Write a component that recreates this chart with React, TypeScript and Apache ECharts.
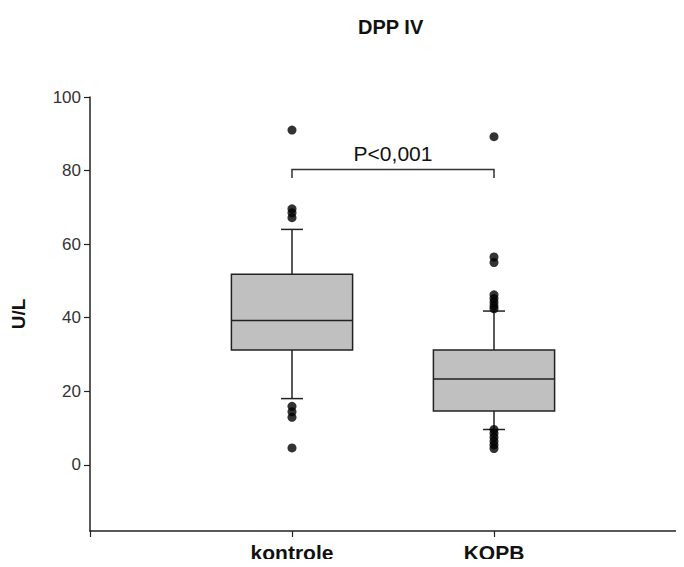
import React, { useEffect, useRef } from "react";
import * as echarts from "echarts";

const categories = ["", "kontrole", "KOPB", ""];
// [categoryIndex, lowerWhisker, Q1, median, Q3, upperWhisker]
const boxStats = [
  [1, 18, 31.2, 39.2, 51.8, 64],
  [2, 9.6, 14.6, 23.3, 31.2, 41.8],
];
const outliersKontrole = [91, 69.6, 68.5, 67.2, 15.9, 14.4, 12.9, 4.6];
const outliersKOPB = [89.2, 56.5, 55, 46.2, 45.2, 44.2, 43.2, 42.4, 9.6, 8.6, 7.5, 6.4, 5.4, 4.4];
const bracket = [[1, 2, 80.3, 78]];
const pText = "P<0,001";
const yTicks = [0, 20, 40, 60, 80, 100];
const yMin = -18;
const yMax = 100;

const FONT = "'Liberation Sans', Arial, sans-serif";
const INK = "#222";

export default function App() {
  const ref = useRef<HTMLDivElement>(null);
  useEffect(() => {
    if (!ref.current) return;
    const chart = echarts.init(ref.current, null, { renderer: "svg" });
    const outlierData = [
      ...outliersKontrole.map((v) => [1, v]),
      ...outliersKOPB.map((v) => [2, v]),
    ];
    chart.setOption({
      animation: false,
      backgroundColor: "#fff",
      title: {
        text: "DPP IV",
        left: 353,
        top: 12,
        textStyle: { fontFamily: FONT, fontSize: 20, fontWeight: "bold", color: "#111" },
      },
      grid: { left: 90, right: -12, top: 97, bottom: 36, outerBoundsMode: "none", containLabel: false },
      xAxis: {
        type: "category",
        data: categories,
        boundaryGap: false,
        axisLine: { onZero: false, lineStyle: { color: INK, width: 1.5 } },
        axisTick: { show: true, length: 6, interval: 0, lineStyle: { color: INK, width: 1.2 } },
        axisLabel: {
          interval: 0,
          margin: 11,
          fontFamily: FONT,
          fontSize: 21,
          fontWeight: "bold",
          color: "#111",
        },
        splitLine: { show: false },
      },
      yAxis: {
        type: "value",
        min: yMin,
        max: yMax,
        name: "U/L",
        nameLocation: "middle",
        nameRotate: 90,
        nameGap: 62,
        nameTextStyle: { fontFamily: FONT, fontSize: 19, fontWeight: "bold", color: "#111" },
        axisLine: { show: true, lineStyle: { color: INK, width: 1.5 } },
        axisTick: { show: true, length: 6, customValues: yTicks, lineStyle: { color: INK, width: 1.2 } },
        axisLabel: {
          customValues: yTicks,
          margin: 9,
          fontFamily: FONT,
          fontSize: 17,
          color: "#333",
        },
        splitLine: { show: false },
      },
      series: [
        {
          type: "custom",
          data: boxStats,
          encode: { x: 0, y: [1, 2, 3, 4, 5] },
          renderItem: (params: any, api: any) => {
            const x = api.value(0);
            const lo = api.coord([x, api.value(1)]);
            const q1 = api.coord([x, api.value(2)]);
            const med = api.coord([x, api.value(3)]);
            const q3 = api.coord([x, api.value(4)]);
            const hi = api.coord([x, api.value(5)]);
            const bw = api.size([1, 0])[0] * 0.6;
            const cw = 22;
            const cx = q1[0];
            const ls = { stroke: INK, lineWidth: 1.5, fill: null };
            return {
              type: "group",
              children: [
                { type: "line", shape: { x1: cx, y1: lo[1], x2: cx, y2: q1[1] }, style: ls },
                { type: "line", shape: { x1: cx, y1: q3[1], x2: cx, y2: hi[1] }, style: ls },
                { type: "line", shape: { x1: cx - cw / 2, y1: lo[1], x2: cx + cw / 2, y2: lo[1] }, style: ls },
                { type: "line", shape: { x1: cx - cw / 2, y1: hi[1], x2: cx + cw / 2, y2: hi[1] }, style: ls },
                {
                  type: "rect",
                  shape: { x: cx - bw / 2, y: q3[1], width: bw, height: q1[1] - q3[1] },
                  style: { fill: "#c0c0c0", stroke: INK, lineWidth: 1.5 },
                },
                { type: "line", shape: { x1: cx - bw / 2, y1: med[1], x2: cx + bw / 2, y2: med[1] }, style: ls },
              ],
            };
          },
          z: 2,
        },
        {
          type: "scatter",
          data: outlierData,
          symbol: "circle",
          symbolSize: 9,
          itemStyle: { color: "#000" },
          z: 3,
        },
        {
          type: "custom",
          data: bracket,
          encode: { x: [0, 1], y: [2, 3] },
          renderItem: (params: any, api: any) => {
            const a = api.coord([api.value(0), api.value(2)]);
            const b = api.coord([api.value(1), api.value(2)]);
            const aEnd = api.coord([api.value(0), api.value(3)]);
            const bEnd = api.coord([api.value(1), api.value(3)]);
            const ls = { stroke: "#333", lineWidth: 1.5, fill: null };
            return {
              type: "group",
              children: [
                { type: "polyline", shape: { points: [aEnd, a, b, bEnd] }, style: ls },
                {
                  type: "text",
                  x: (a[0] + b[0]) / 2,
                  y: a[1] - 5,
                  style: {
                    text: pText,
                    fontFamily: FONT,
                    fontSize: 21,
                    fill: "#111",
                    align: "center",
                    verticalAlign: "bottom",
                  },
                },
              ],
            };
          },
          z: 2,
        },
      ],
    });
    return () => chart.dispose();
  }, []);
  return <div ref={ref} style={{ width: 684, height: 567, margin: -8 }} />;
}
